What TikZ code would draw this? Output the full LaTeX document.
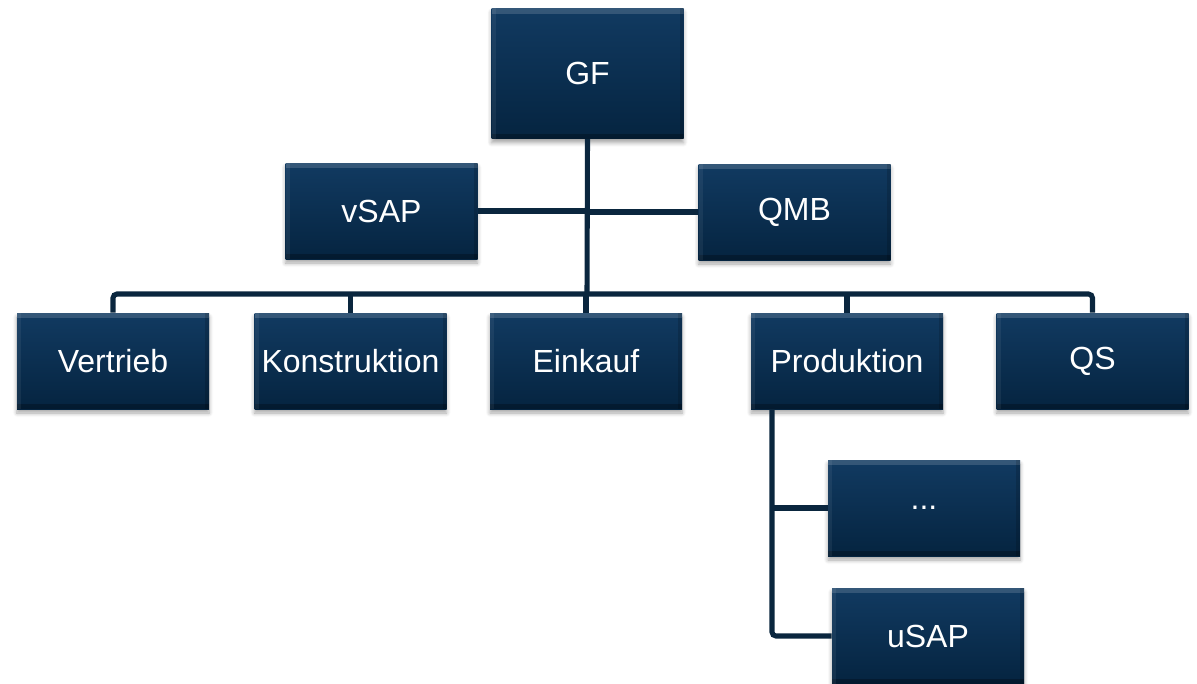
\documentclass[tikz,border=0pt]{standalone}
\usepackage{fontspec}
\setmainfont{Liberation Sans}
\usetikzlibrary{shadows.blur}
\definecolor{navytop}{RGB}{17,58,97}
\definecolor{navybot}{RGB}{5,36,64}
\definecolor{linecol}{RGB}{10,38,62}
\tikzset{
  orgbox/.style={rectangle, minimum width=144pt, minimum height=72pt, inner sep=0pt,
    top color=navytop, bottom color=navybot, text=white, font=\fontsize{24}{28}\selectfont,
    blur shadow={shadow xshift=0pt, shadow yshift=-3pt, shadow opacity=35, shadow blur steps=6, shadow blur radius=3pt},
    path picture={
      \fill[white,opacity=0.15] (path picture bounding box.north west) rectangle ([yshift=-4pt]path picture bounding box.north east);
      \fill[black,opacity=0.25] (path picture bounding box.south west) rectangle ([yshift=4pt]path picture bounding box.south east);
      \fill[white,opacity=0.06] (path picture bounding box.south west) rectangle ([xshift=3pt]path picture bounding box.north west);
      \fill[black,opacity=0.15] (path picture bounding box.south east) rectangle ([xshift=-3pt]path picture bounding box.north east);
    }},
  link/.style={draw=linecol, line width=3.8pt, rounded corners=3pt}
}
\begin{document}
\begin{tikzpicture}[x=0.75pt, y=-0.75pt]
\useasboundingbox (0,0) rectangle (1197,683);
\node[orgbox, minimum height=98pt] (GF) at (587.5,73.5) {GF};
\node[orgbox] (vSAP) at (381.5,211) {vSAP};
\node[orgbox] (QMB) at (794.5,212) {QMB};
\node[orgbox] (Vertrieb) at (113,361) {Vertrieb};
\node[orgbox] (Konstruktion) at (350.5,361) {Konstruktion};
\node[orgbox] (Einkauf) at (586,361) {Einkauf};
\node[orgbox] (Produktion) at (847,361) {Produktion};
\node[orgbox] (QS) at (1092.5,361) {QS};
\node[orgbox] (dots) at (924,508) {...};
\node[orgbox] (uSAP) at (928,636) {uSAP};
\coordinate (bus) at (587,294);
\coordinate (ptop) at (772,409);
% connectors
\draw[link] (GF.south) -- (bus);
\draw[link] (vSAP.east) -- (vSAP.east -| GF.south);
\draw[link] (QMB.west) -- (QMB.west -| GF.south);
\draw[link] (Vertrieb.north) |- (QS.north |- bus) -- (QS.north);
\draw[link] (Konstruktion.north) -- (Konstruktion.north |- bus);
\draw[link] (Einkauf.north) -- (Einkauf.north |- bus);
\draw[link] (Produktion.north) -- (Produktion.north |- bus);
\draw[link] (ptop) |- (uSAP.west);
\draw[link] (ptop |- dots.west) -- (dots.west);
\end{tikzpicture}
\end{document}
